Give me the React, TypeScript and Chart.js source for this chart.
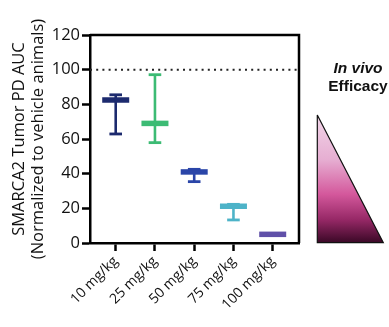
import React, { useEffect, useRef } from "react";
import { Chart, registerables } from "chart.js";

Chart.register(...registerables);

const categories = ["10 mg/kg", "25 mg/kg", "50 mg/kg", "75 mg/kg", "100 mg/kg"];
const means = [82.5, 69.0, 41.0, 21.2, 5.0];
const lows = [62.9, 57.9, 35.4, 13.3, 4.5];
const highs = [85.5, 97.1, 42.5, 22.3, 5.5];
const colors = ["#1c2a6e", "#3cbb74", "#2a45a8", "#4db3c8", "#6050a8"];
const yTicks = [0, 20, 40, 60, 80, 100, 120];
const refValue = 100;

const X_MIN = 0.345;
const X_MAX = 5.67;

const framePlugin = {
  id: "frame",
  afterDatasetsDraw(chart: any) {
    const { ctx, chartArea } = chart;
    ctx.save();
    ctx.strokeStyle = "#000";
    ctx.lineWidth = 2.5;
    ctx.beginPath();
    ctx.moveTo(chartArea.left, chartArea.top);
    ctx.lineTo(chartArea.right, chartArea.top);
    ctx.lineTo(chartArea.right, chartArea.bottom);
    ctx.stroke();
    ctx.restore();
  },
};

export default function App() {
  const ref = useRef<HTMLCanvasElement>(null);
  useEffect(() => {
    if (!ref.current) return;
    const datasets: any[] = [];
    datasets.push({
      type: "line",
      data: [
        { x: X_MIN, y: refValue },
        { x: X_MAX, y: refValue },
      ],
      borderColor: "#222",
      borderWidth: 2,
      borderDash: [2, 4.2],
      pointRadius: 0,
    });
    categories.forEach((_, i) => {
      datasets.push({
        type: "line",
        data: [
          { x: i + 1, y: lows[i] },
          { x: i + 1, y: highs[i] },
        ],
        borderColor: colors[i],
        borderWidth: 2.6,
        pointStyle: "line",
        pointRadius: 6.3,
        pointBorderWidth: 2.8,
        pointBorderColor: colors[i],
        pointBackgroundColor: colors[i],
      });
    });
    categories.forEach((_, i) => {
      datasets.push({
        type: "scatter",
        data: [{ x: i + 1, y: means[i] }],
        pointStyle: "line",
        pointRadius: 13.5,
        pointBorderWidth: 5.5,
        pointBorderColor: colors[i],
        pointBackgroundColor: colors[i],
      });
    });
    const font = "'Open Sans', 'DejaVu Sans', sans-serif";
    const chart = new Chart(ref.current, {
      type: "scatter",
      data: { datasets },
      plugins: [framePlugin],
      options: {
        animation: false,
        responsive: false,
        maintainAspectRatio: false,
        layout: { padding: { top: 35, right: 90, left: 9, bottom: 0 } },
        plugins: { legend: { display: false }, tooltip: { enabled: false } },
        scales: {
          x: {
            type: "linear",
            min: X_MIN,
            max: X_MAX,
            afterBuildTicks: (s: any) => {
              s.ticks = categories.map((_, i) => ({ value: i + 1 }));
            },
            afterFit: (s: any) => {
              s.height = 84;
            },
            grid: {
              drawOnChartArea: false,
              drawTicks: true,
              tickLength: 8,
              tickWidth: 2.5,
              tickColor: "#000",
            },
            border: { display: true, color: "#000", width: 2.5 },
            ticks: {
              minRotation: 45,
              maxRotation: 45,
              padding: 2,
              color: "#111",
              font: { family: font, size: 14 },
              callback: (v: any) => categories[Math.round(Number(v)) - 1] ?? "",
            },
          },
          y: {
            type: "linear",
            min: 0,
            max: 120,
            afterBuildTicks: (s: any) => {
              s.ticks = yTicks.map((v) => ({ value: v }));
            },
            afterFit: (s: any) => {
              s.width = 81;
            },
            grid: {
              drawOnChartArea: false,
              drawTicks: true,
              tickLength: 8,
              tickWidth: 2.5,
              tickColor: "#000",
            },
            border: { display: true, color: "#000", width: 2.5 },
            ticks: {
              padding: 2,
              color: "#111",
              font: { family: font, size: 16.5 },
            },
            title: {
              display: true,
              text: ["SMARCA2 Tumor PD AUC", "(Normalized to vehicle animals)"],
              color: "#111",
              font: { family: font, size: 16.5, lineHeight: 1.2 },
              padding: { top: 0, bottom: 0 },
            },
          },
        },
      },
    } as any);
    return () => chart.destroy();
  }, []);
  return (
    <div style={{ position: "absolute", left: 0, top: 0, width: 389, height: 327, background: "#fff" }}>
      <canvas ref={ref} width={389} height={327} style={{ width: 389, height: 327, display: "block" }} />
      <div
        style={{
          position: "absolute",
          left: 321,
          top: 59,
          width: 74,
          textAlign: "center",
          fontFamily: "'Liberation Sans', Arial, sans-serif",
          fontWeight: "bold",
          fontSize: 15.5,
          lineHeight: "18px",
          color: "#111",
        }}
      >
        <div style={{ fontStyle: "italic" }}>In vivo</div>
        <div>Efficacy</div>
      </div>
      <svg style={{ position: "absolute", left: 0, top: 0 }} width={389} height={327}>
        <defs>
          <linearGradient id="eff" x1="0" y1="0" x2="0" y2="1">
            <stop offset="0" stopColor="#f2d6e9" />
            <stop offset="0.35" stopColor="#e6aed2" />
            <stop offset="0.62" stopColor="#d4589c" />
            <stop offset="0.82" stopColor="#962866" />
            <stop offset="1" stopColor="#3a0826" />
          </linearGradient>
        </defs>
        <polygon points="317.3,115 317.3,242.7 383.3,242.7" fill="url(#eff)" stroke="#111" strokeWidth={1.2} />
      </svg>
    </div>
  );
}
